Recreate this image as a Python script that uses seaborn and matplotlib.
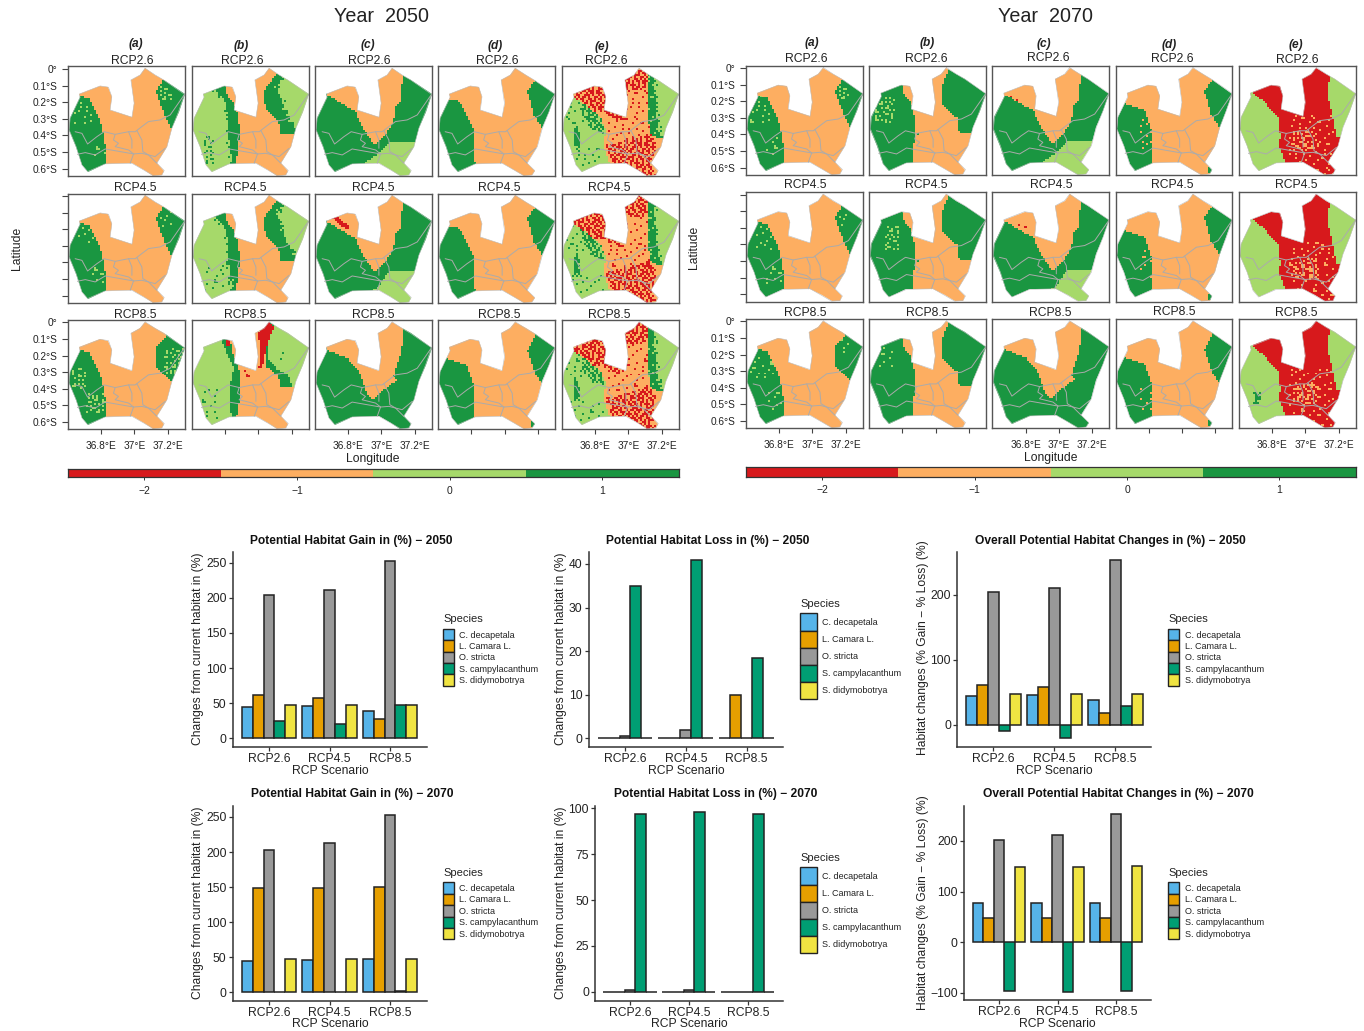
import numpy as np
import pandas as pd
import matplotlib
matplotlib.use("Agg")
import matplotlib.pyplot as plt
from matplotlib.colors import ListedColormap
from matplotlib.patches import Patch, Polygon
from matplotlib.path import Path
import seaborn as sns

sns.set_style("ticks")
plt.rcParams["font.family"] = ["Liberation Sans", "DejaVu Sans"]

W, H = 1364, 1031

# ---------------------------------------------------------------- bar data
SPECIES = ["C. decapetala", "L. Camara L.", "O. stricta", "S. campylacanthum", "S. didymobotrya"]
SCENARIOS = ["RCP2.6", "RCP4.5", "RCP8.5"]
BAR_COLORS = ["#56B4E9", "#E69F00", "#999999", "#009E73", "#F0E442"]

gain_2050 = [[45, 62, 204, 25, 47], [46, 57, 211, 20, 47], [39, 28, 253, 48, 47]]
loss_2050 = [[0, 0, 0.5, 35, 0], [0, 0, 2, 41, 0], [0, 10, 0, 18.5, 0]]
over_2050 = [[45, 62, 204, -10, 47], [46, 58, 210, -20, 47], [39, 18, 253, 29, 47]]
gain_2070 = [[44, 148, 203, 0, 47], [46, 149, 213, 0, 47], [47, 150, 253, 2, 47]]
loss_2070 = [[0, 0, 1, 97, 0], [0, 0, 1, 98, 0], [0, 0, 0, 97, 0]]
over_2070 = [[78, 47, 202, -97, 148], [78, 47, 212, -98, 149], [78, 47, 253, -96, 150]]

# ---------------------------------------------------------------- map data (lon, lat)
OUTLINE = [(37.065, .004), (37.125, -.036), (37.176, -.066), (37.302, -.153), (37.266, -.257),
           (37.226, -.357), (37.196, -.468), (37.135, -.568), (37.18, -.612), (37.165, -.639),
           (37.115, -.643), (37.055, -.608), (36.985, -.568), (36.824, -.572), (36.718, -.618),
           (36.684, -.578), (36.649, -.468), (36.607, -.367), (36.613, -.297), (36.673, -.171),
           (36.669, -.151), (36.794, -.102), (36.844, -.110), (36.864, -.167), (36.854, -.247),
           (36.985, -.291), (36.999, -.207), (36.979, -.066), (37.035, -.036)]
BORDERS = [
    [(36.643, -.378), (36.684, -.388), (36.718, -.452), (36.774, -.408), (36.818, -.378), (36.884, -.394),
     (36.965, -.378), (37.005, -.378), (37.045, -.347), (37.085, -.317), (37.155, -.307), (37.216, -.277),
     (37.302, -.153)],
    [(36.657, -.514), (36.704, -.504), (36.764, -.518), (36.824, -.482), (36.995, -.512), (37.045, -.508),
     (37.085, -.518), (37.125, -.528), (37.186, -.478)],
    [(36.884, -.394), (36.874, -.428), (36.904, -.448), (36.884, -.468), (36.965, -.488), (36.995, -.512)],
    [(36.965, -.378), (36.985, -.428), (36.985, -.478)],
    [(37.015, -.371), (37.045, -.428), (37.051, -.498), (37.085, -.518), (37.135, -.568)],
    [(36.995, -.512), (36.975, -.568)],
]

WEST_A = [(36.66, -.16), (36.724, -.177), (36.754, -.227), (36.804, -.337), (36.824, -.448), (36.83, -.572)]
EAST_A = [(37.176, -.066), (37.135, -.137), (37.155, -.207), (37.19, -.287), (37.226, -.357)]
EAST_A85 = [(37.19, -.09), (37.135, -.15), (37.135, -.27), (37.226, -.36)]
BAND_R = [(36.804, -.10), (36.814, -.167), (36.854, -.207), (36.878, -.277), (36.89, -.388), (36.878, -.468),
          (36.864, -.598)]
BAND_L = [(36.72, -.116), (36.794, -.187), (36.818, -.267), (36.818, -.388), (36.834, -.488), (36.844, -.588)]
EB_L = [(37.115, -.03), (37.045, -.116), (37.031, -.187), (37.055, -.247), (37.125, -.317), (37.131, -.388),
        (37.26, -.40)]
EB_R = [(37.145, -.056), (37.115, -.116), (37.145, -.187), (37.176, -.287), (37.226, -.357)]
BL2 = [(36.784, -.12), (36.814, -.191), (36.854, -.271), (36.834, -.371), (36.834, -.532), (36.844, -.612)]
BR2 = [(36.834, -.11), (36.844, -.181), (36.884, -.271), (36.89, -.392), (36.884, -.492), (36.864, -.612)]
RED_B85 = [(36.995, -.07), (37.065, .01), (37.095, -.03), (37.055, -.131), (37.025, -.271), (37.005, -.271),
           (37.015, -.131)]
B85_G = [(37.07, .0), (37.045, -.131), (37.045, -.262), (37.125, -.322), (37.131, -.392), (37.26, -.40)]
B85_L = [(37.095, -.01), (37.055, -.131), (37.055, -.211), (37.115, -.281), (37.176, -.312), (37.216, -.402)]
C_O = [(36.673, -.157), (36.774, -.217), (36.844, -.257), (36.894, -.367), (36.965, -.462), (37.055, -.358),
       (37.085, -.277), (37.085, -.227), (37.125, -.187), (37.125, -.106), (37.135, -.056), (37.135, .02),
       (36.60, .02)]
C_L = [(36.884, -.578), (36.975, -.518), (37.055, -.438), (37.22, -.438), (37.22, -.7), (36.884, -.7)]
C_L45 = [(36.904, -.588), (36.975, -.558), (37.045, -.458), (37.22, -.458), (37.22, -.7), (36.904, -.7)]
C_RED45 = [(36.70, -.135), (36.74, -.135), (36.80, -.18), (36.80, -.2), (36.77, -.19), (36.72, -.15)]
C85_O = [(36.67, -.165), (36.794, -.211), (36.864, -.291), (36.914, -.432), (36.955, -.468), (37.015, -.412),
         (37.095, -.35), (37.075, -.33), (37.125, -.161), (37.135, -.06), (37.135, .02), (36.6, .02)]
D_W = [(36.64, -.187), (36.734, -.197), (36.814, -.367), (36.824, -.558), (36.83, -.6)]
D_E = [(37.176, -.076), (37.135, -.137), (37.176, -.287), (37.226, -.357)]
D85_W = [(36.64, -.215), (36.684, -.227), (36.774, -.257), (36.814, -.381), (36.824, -.602)]
D85_E = [(37.176, -.09), (37.135, -.171), (37.186, -.321), (37.226, -.371)]
E_W = [(36.66, -.165), (36.71, -.197), (36.83, -.287), (36.864, -.367), (36.854, -.468), (36.894, -.588)]
E_LOBE = [(36.669, -.116), (36.794, -.086), (36.864, -.127), (36.884, -.247), (36.975, -.297), (36.961, -.317),
          (36.854, -.267), (36.75, -.257), (36.669, -.167)]
E_TOP = [(36.97, -.07), (37.03, -.03), (37.065, .02), (37.125, -.02), (37.135, -.09), (37.09, -.125), (36.99, -.13)]
E_SE = [(36.86, -.458), (37.011, -.428), (37.131, -.388), (37.171, -.448), (37.151, -.568), (37.171, -.649),
        (37.091, -.649), (37.011, -.588), (36.91, -.588)]
E_GL = [(37.121, -.03), (37.121, -.26), (37.131, -.388), (37.18, -.42), (37.26, -.42)]
E_GR = [(37.161, -.04), (37.161, -.15), (37.171, -.287), (37.19, -.40), (37.226, -.42)]
E_PATCH = [(36.668, -.345), (36.70, -.345), (36.712, -.48), (36.68, -.49)]
E_SMEAR = [(36.72, -.19), (36.80, -.24), (36.855, -.32), (36.855, -.39), (36.78, -.36), (36.72, -.27)]
B70_R = [(36.804, -.10), (36.814, -.167), (36.854, -.207), (36.87, -.25), (36.878, -.39), (36.858, -.61)]
B70_E = [(37.08, .01), (37.03, -.124), (37.03, -.215), (37.13, -.306), (37.133, -.386), (37.26, -.40)]
E70_W = [(36.66, -.13), (36.75, -.203), (36.84, -.303), (36.85, -.414), (36.84, -.474), (36.89, -.584)]
E70_E = [(37.141, -.052), (37.131, -.173), (37.161, -.293), (37.182, -.414), (37.22, -.42)]

TILE_S = ["................."
          , "....#.......#...."
          , ".#..........##..."
          , "........#........"
          , "...##...........#"
          , "...........#....."
          , ".......#........."
          , ".#.........#..#.."
          , "....#............"
          , "..........#...#.."
          , "..#.....#........"
          , "................#"
          , "......#......#..."]
TILE_M = ["..#....##....#..."
          , "#...##.....#...#."
          , "..#.....#.##....."
          , ".##..#......#.##."
          , ".....##..#.....#."
          , "#.#.......##.#..."
          , "...#.#.#.....#..#"
          , ".#....##..#......"
          , "...##.....##.#.#."
          , "#.....#.#......#."
          , "..#.#.....#.#...."
          , ".#...##.......##."
          , "....#...#.#.#...."]
TILE_D = ["##.#..###.#.##..#"
          , ".###.##..##..#.##"
          , "#.#..#.##.###.#.."
          , "##..###.#..#.###."
          , ".#.##.#..##.#.#.#"
          , "#.##..##.#.##..##"
          , "##.#.#.###..#.##."
          , ".#..##.#..##.##.#"
          , "#.###..##.#.#..##"
          , ".##.#.#.##.###.#."
          , "#..##.#..#.##.#.#"
          , "##.#.###.#..#.##."
          , ".#.#..#.##.##..##"]
TILES = {"S": TILE_S, "M": TILE_M, "D": TILE_D}
CLASS = {"R": -2, "O": -1, "L": 0, "G": 1}
MAP_COLORS = ["#D7191C", "#FDAE61", "#A6D96A", "#1A9641"]
LON0, LON1, LAT0, LAT1 = 36.6, 37.302, .015, -.645
NX, NY = 58, 55


def west(b):
    return [(b[0][0], .1)] + b + [(b[-1][0], -.7), (36.5, -.7), (36.5, .1)]


def east(b):
    return [(b[0][0], .1)] + b + [(b[-1][0], -.7), (37.4, -.7), (37.4, .1)]


def box(x0, x1, y0, y1):
    return [(x0, y0), (x1, y0), (x1, y1), (x0, y1)]


def strip(b, w):
    return [(x - w, y) for x, y in b] + [(x + w, y) for x, y in reversed(b)]


def solid(c, poly):
    return (c, None, None, poly)


def spk(c, old, tile, poly):
    return (c, old, tile, poly)


WORLD = box(36.5, 37.4, -.7, .1)


def panel_a(specks, e=EAST_A):
    return [solid("O", WORLD), solid("G", west(WEST_A)), solid("G", east(e))] + specks


def panel_b(specks):
    return [solid("O", WORLD), solid("G", west(BAND_R)), solid("L", west(BAND_L)),
            solid("G", east(EB_L)), solid("L", east(EB_R)),
            spk("G", "L", "M", strip(BAND_L, .016)), spk("G", "L", "M", strip(EB_R, .016)),
            spk("L", "G", "S", strip(EB_R, .016))] + specks


def panel_c(orange, light, red):
    ops = [solid("G", WORLD), solid("O", orange)]
    if light:
        ops.append(solid("L", light))
    return ops + red


def panel_d(w, e, extra=()):
    return [solid("O", WORLD), solid("G", west(w)), solid("G", east(e))] + list(extra)


def panel_e(extra=()):
    return [solid("O", WORLD), solid("L", west(E_W)),
            solid("G", east(E_GL)), solid("L", east(E_GR)),
            spk("L", "G", "S", box(37.11, 37.19, -.40, -.03)),
            spk("G", "L", "M", strip(E_GR, .018)),
            spk("G", "L", "S", box(36.62, 36.80, -.34, -.15)),
            spk("G", "L", "D", E_SMEAR),
            spk("G", "L", "S", box(36.62, 36.85, -.60, -.48)),
            spk("R", "O", "D", E_LOBE),
            spk("R", "O", "D", E_TOP),
            spk("R", "O", "D", E_SE),
            spk("R", "O", "S", box(36.88, 37.14, -.43, -.13))] + list(extra)


def panel_e70(extra=()):
    return [solid("R", WORLD), solid("L", west(E70_W)), solid("L", east(E70_E)),
            spk("O", "R", "S", box(36.90, 37.17, -.64, -.28)),
            spk("O", "R", "M", box(36.93, 37.08, -.50, -.38))] + list(extra)


PATCH_E = [solid("G", box(36.672, 36.70, -.46, -.37)), spk("G", "L", "D", E_PATCH)]

P2050 = [
    [panel_a([spk("L", "G", "S", box(36.64, 36.77, -.33, -.19)), spk("L", "G", "S", box(36.734, 36.824, -.54, -.45)),
              spk("L", "G", "M", box(37.155, 37.226, -.19, -.10))]),
     panel_b([spk("G", "L", "M", box(36.673, 36.734, -.568, -.398))]),
     panel_c(C_O, C_L, [spk("R", "O", "S", box(36.754, 36.804, -.217, -.177))]),
     panel_d(D_W, D_E),
     panel_e(PATCH_E)],
    [panel_a([spk("L", "G", "S", box(36.66, 36.77, -.28, -.15)), spk("L", "G", "S", box(36.734, 36.824, -.54, -.43)),
              spk("L", "G", "S", box(37.155, 37.226, -.19, -.09))]),
     panel_b([spk("G", "L", "S", box(36.673, 36.80, -.568, -.42)), spk("L", "G", "S", box(36.80, 36.87, -.55, -.40))]),
     panel_c(C_O, C_L45, [solid("R", C_RED45)]),
     panel_d(D_W, D_E),
     panel_e(PATCH_E)],
    [panel_a([spk("L", "G", "M", box(36.623, 36.714, -.41, -.27)), spk("L", "G", "M", box(36.714, 36.824, -.55, -.43)),
              spk("L", "G", "M", box(37.176, 37.296, -.31, -.15))], EAST_A85),
     [solid("O", WORLD), solid("G", west(BR2)), solid("L", west(BL2)), solid("G", east(B85_G)),
      solid("L", east(B85_L)), solid("R", RED_B85), solid("R", box(36.808, 36.834, -.14, -.11)),
      spk("G", "L", "S", box(37.125, 37.17, -.22, -.16)), spk("G", "L", "S", box(36.66, 36.76, -.58, -.39)),
      spk("R", "O", "S", box(36.86, 37.0, -.33, -.27))],
     panel_c(C85_O, None, []),
     panel_d(D85_W, D85_E, [solid("G", box(37.155, 37.18, -.63, -.60))]),
     panel_e(PATCH_E)],
]

B70 = [solid("O", WORLD), solid("G", west(B70_R)), solid("G", east(B70_E))]
P2070 = [
    [panel_a([spk("L", "G", "S", box(36.62, 36.78, -.35, -.17)), spk("L", "G", "S", box(36.72, 36.82, -.54, -.42)),
              spk("L", "G", "M", box(37.155, 37.22, -.20, -.10))]),
     B70 + [spk("L", "G", "M", box(36.64, 36.76, -.335, -.175)), solid("G", box(36.885, 36.90, -.41, -.395))],
     panel_c(C_O, C_L, [spk("R", "O", "S", box(36.71, 36.80, -.217, -.165))]),
     panel_d(D85_W, D_E, [spk("O", "G", "S", box(36.75, 36.83, -.50, -.30)), solid("G", box(37.155, 37.18, -.63, -.60))]),
     panel_e70()],
    [panel_a([spk("L", "G", "S", box(36.66, 36.78, -.33, -.15)), spk("L", "G", "S", box(36.72, 36.82, -.54, -.42)),
              spk("L", "G", "S", box(37.155, 37.22, -.20, -.08))]),
     B70 + [spk("L", "G", "M", box(36.70, 36.78, -.33, -.19)), solid("G", box(36.885, 36.90, -.41, -.395))],
     panel_c(C_O, C_L45, [spk("R", "O", "S", box(36.71, 36.80, -.217, -.165))]),
     panel_d(D85_W, D_E, [spk("O", "G", "S", box(36.75, 36.83, -.50, -.30)), solid("G", box(37.155, 37.18, -.63, -.60))]),
     panel_e70()],
    [panel_a([spk("L", "G", "S", box(36.62, 36.78, -.35, -.20)), spk("L", "G", "S", box(36.72, 36.82, -.54, -.42)),
              spk("L", "G", "S", box(37.155, 37.22, -.20, -.08))], EAST_A85),
     B70 + [spk("L", "G", "S", box(36.66, 36.76, -.27, -.13))],
     panel_c(C85_O, None, []),
     panel_d(D85_W, D85_E, [spk("O", "G", "S", box(36.75, 36.83, -.55, -.40)), solid("G", box(37.155, 37.18, -.63, -.60))]),
     panel_e70([spk("G", "L", "D", box(36.68, 36.73, -.504, -.424)), solid("G", box(36.695, 36.715, -.48, -.44))])],
]

# ---------------------------------------------------------------- layout (pixels)
COLS_2050 = [(68, 184.5), (192, 308.5), (315, 431.5), (438, 555), (562, 678.5)]
ROWS_2050 = [(66.5, 176), (193.5, 303), (320, 429)]
COLS_2070 = [(746, 862.7), (869.3, 985.7), (992.3, 1109), (1115.7, 1232.3), (1239, 1355.7)]
ROWS_2070 = [(65.7, 175), (192.3, 301.5), (319, 428)]
LET_2050 = [(136, 44), (241, 46), (368, 45), (495, 46), (602, 47)]
LET_2070 = [(812, 43), (927, 43), (1044, 44), (1169, 45), (1296, 45)]
RCP_2050 = [[(132.7, 60.7), (242, 61), (369, 60.7), (497, 60.7), (606, 60.7)],
            [(135.6, 187.7), (245.7, 187.7), (373, 187.7), (499, 187.7), (609, 187.7)],
            [(135.6, 314.7), (245.7, 314.7), (373, 314.7), (499, 314.7), (609, 314.7)]]
RCP_2070 = [[(806, 59), (926.7, 59), (1048, 58), (1172, 59), (1297.7, 60)],
            [(805, 185), (926.7, 185), (1051, 185), (1172, 185), (1296.7, 184.5)],
            [(805.6, 313), (927, 313), (1050, 313), (1174, 312), (1296, 313)]]
LAT_TICKS = [0, -.1, -.2, -.3, -.4, -.5, -.6]
LAT_LABELS = ["0°", "0.1°S", "0.2°S", "0.3°S", "0.4°S", "0.5°S", "0.6°S"]
LON_TICKS = [36.8, 37.0, 37.2]
LON_LABELS = ["36.8°E", "37°E", "37.2°E"]

fig = plt.figure(figsize=(W / 100, H / 100), dpi=100, facecolor="white")
cmap = ListedColormap(MAP_COLORS)


def px_axes(x0, x1, y0, y1):
    return fig.add_axes([x0 / W, 1 - y1 / H, (x1 - x0) / W, (y1 - y0) / H])


def ftext(x, y, s, **kw):
    kw.setdefault("ha", "center")
    kw.setdefault("va", "center")
    return fig.text(x / W, 1 - y / H, s, **kw)


dx = (LON1 - LON0) / NX
dy = (LAT0 - LAT1) / NY
lon_c = LON0 + (np.arange(NX) + .5) * dx
lat_c = LAT0 - (np.arange(NY) + .5) * dy
LL = np.array(np.meshgrid(lon_c, lat_c)).reshape(2, -1).T
xi = lambda lon: (np.asarray(lon) - LON0) / dx
yi = lambda lat: (LAT0 - np.asarray(lat)) / dy


def rasterise(ops, shift):
    grid = np.zeros((NY, NX))
    for new, old, tile, poly in ops:
        inside = Path(poly).contains_points(LL).reshape(NY, NX)
        if old is not None:
            inside &= grid == CLASS[old]
        if tile is not None:
            t = TILES[tile]
            h, w = len(t), len(t[0])
            hit = np.array([[t[(r + shift) % h][(c + 2 * shift + 5 * (r // h)) % w] == "#"
                             for c in range(NX)] for r in range(NY)])
            inside &= hit
        grid[inside] = CLASS[new]
    return grid


def draw_map(ax, ops, left, row, bottom_labels, shift):
    sns.heatmap(rasterise(ops, shift), ax=ax, cmap=cmap, vmin=-2.5, vmax=1.5, cbar=False,
                xticklabels=False, yticklabels=False)
    o = np.array(OUTLINE)
    clip = Polygon(np.c_[xi(o[:, 0]), yi(o[:, 1])], closed=True, transform=ax.transData)
    ax.collections[0].set_clip_path(clip)
    for line in BORDERS:
        a = np.array(line)
        ax.plot(xi(a[:, 0]), yi(a[:, 1]), color="#ABABAB", lw=.7, solid_joinstyle="round")
    o = np.array(OUTLINE + OUTLINE[:1])
    ax.plot(xi(o[:, 0]), yi(o[:, 1]), color="#BDBDBD", lw=.4)
    ax.set_xlim(0, NX)
    ax.set_ylim(NY, 0)
    for s in ax.spines.values():
        s.set_visible(True)
        s.set_color("#555555")
        s.set_linewidth(1.0)
    if left:
        ax.set_yticks(yi(LAT_TICKS))
        ax.set_yticklabels(LAT_LABELS if row != 1 else [""] * 7, rotation=0)
    else:
        ax.set_yticks([])
    if row == 2:
        ax.set_xticks(xi(LON_TICKS))
        ax.set_xticklabels(LON_LABELS if bottom_labels else ["", "", ""], rotation=0)
    else:
        ax.set_xticks([])
    ax.tick_params(axis="y", length=4, width=.8, color="#444444", pad=3.5, labelsize=7.3, labelcolor="#222222")
    ax.tick_params(axis="x", length=3.5, width=.8, color="#444444", pad=5.3, labelsize=7.3, labelcolor="#222222")


def draw_block(panels, cols, rows, letters, rcps):
    for r, (y0, y1) in enumerate(rows):
        for c, (x0, x1) in enumerate(cols):
            ax = px_axes(x0, x1, y0, y1)
            draw_map(ax, panels[r][c], c == 0, r, c in (0, 2, 4), r * 3 + c * 7)
            ftext(*rcps[r][c], SCENARIOS[r], fontsize=8.7, color="#222222")
    for (x, y), s in zip(letters, ["(a)", "(b)", "(c)", "(d)", "(e)"]):
        ftext(x, y, s, fontsize=8.6, fontweight="bold", fontstyle="italic", color="#222222")


draw_block(P2050, COLS_2050, ROWS_2050, LET_2050, RCP_2050)
draw_block(P2070, COLS_2070, ROWS_2070, LET_2070, RCP_2070)


def draw_cbar(x0, x1, y0, y1):
    ax = px_axes(x0, x1, y0, y1)
    sns.heatmap(np.array([[-2, -1, 0, 1]]), ax=ax, cmap=cmap, vmin=-2.5, vmax=1.5, cbar=False,
                xticklabels=False, yticklabels=False)
    for s in ax.spines.values():
        s.set_visible(True)
        s.set_color("#333333")
        s.set_linewidth(.9)
    ax.set_yticks([])
    ax.set_xticks([.5, 1.5, 2.5, 3.5])
    ax.set_xticklabels(["\u22122", "\u22121", "0", "1"], rotation=0)
    ax.tick_params(axis="x", length=2.5, width=.7, color="#333333", pad=3.8, labelsize=7.5, labelcolor="#222222")


draw_cbar(68, 678.5, 469, 477.3)
draw_cbar(746, 1355.7, 467.3, 476.7)

ftext(382, 16, "Year  2050", fontsize=14.2, color="#222222")
ftext(1045, 17, "Year  2070", fontsize=14.2, color="#222222")
ftext(373, 459, "Longitude", fontsize=8.7, color="#222222")
ftext(1051, 457.5, "Longitude", fontsize=8.7, color="#222222")
ftext(17, 248, "Latitude", fontsize=8.7, rotation=90, color="#222222")
ftext(694, 247, "Latitude", fontsize=8.7, rotation=90, color="#222222")


# ---------------------------------------------------------------- bars
def tidy(values):
    return pd.DataFrame([
        {"RCP": s, "Species": sp, "Change": v}
        for s, row in zip(SCENARIOS, values) for sp, v in zip(SPECIES, row)])


def draw_bars(values, box_px, ylim, yticks, cats, title, tpos, ylabel, ylpos, xlpos, legend, big):
    x0, x1, y0, y1 = box_px
    ax = px_axes(x0, x1, y0, y1)
    sns.barplot(data=tidy(values), x="RCP", y="Change", hue="Species", hue_order=SPECIES, palette=BAR_COLORS,
                order=SCENARIOS, width=.9, saturation=1, edgecolor="#222222", linewidth=1.1, legend=False, ax=ax)
    d = (cats[1] - cats[0]) / 1.0
    ax.set_xlim((x0 - cats[0]) / d, (x1 - cats[0]) / d)
    ax.set_ylim(*ylim)
    ax.set_yticks(yticks)
    ax.set_yticklabels([str(t).replace("-", "\u2212") for t in yticks])
    ax.set_xlabel("")
    ax.set_ylabel("")
    sns.despine(ax=ax)
    ax.patch.set_alpha(0)
    for k in ("left", "bottom"):
        ax.spines[k].set_color("#333333")
        ax.spines[k].set_linewidth(1.1)
    ax.tick_params(length=3, width=.9, color="#333333", labelsize=8.7, labelcolor="#222222", pad=1.5)
    ftext(tpos[0], tpos[1] + 1.3, title, fontsize=8.65, fontweight="bold", color="#111111")
    ftext(*ylpos, ylabel, fontsize=8.7, rotation=90, color="#222222")
    ftext(*xlpos, "RCP Scenario", fontsize=8.7, color="#222222")
    handles = [Patch(facecolor=c, edgecolor="#222222", linewidth=1.0, label=s) for c, s in zip(BAR_COLORS, SPECIES)]
    leg = ax.legend(handles=handles, title="Species", loc="upper left",
                    bbox_to_anchor=(legend[0] / W, 1 - legend[1] / H), bbox_transform=fig.transFigure,
                    frameon=False, borderpad=0, borderaxespad=0, alignment="left", fontsize=6.5,
                    title_fontsize=8, labelspacing=.0,
                    handlelength=1.85 if big else 1.22, handleheight=2.54 if big else 1.56,
                    handletextpad=.6)
    leg._legend_box.sep = 3.2
    for t in leg.get_texts():
        t.set_color("#222222")
    leg.get_title().set_color("#222222")


draw_bars(gain_2050, (232.7, 427, 551.7, 746.7), (-12, 265.8), [0, 50, 100, 150, 200, 250], (269, 329.5),
          "Potential Habitat Gain in (%) \u2212 2050", (351.7, 539.3), "Changes from current habitat in (%)",
          (198, 649), (330, 771), (443, 614.5), False)
draw_bars(loss_2050, (588.7, 782.7, 551.7, 746.7), (-1.93, 42.8), [0, 10, 20, 30, 40], (625, 685.8),
          "Potential Habitat Loss in (%) \u2212 2050", (707.7, 539.3), "Changes from current habitat in (%)",
          (560.7, 649), (686, 771), (800, 599), True)
draw_bars(over_2050, (957.3, 1150.7, 551.7, 746.7), (-33.4, 266), [0, 100, 200], (993.3, 1054.2),
          "Overall Potential Habitat Changes in (%) \u2212 2050", (1110, 539.3), "Habitat changes (% Gain \u2212 % Loss) (%)",
          (922.7, 648), (1054, 770.5), (1168.3, 614.5), False)
draw_bars(gain_2070, (232.7, 427, 806, 1001), (-12.8, 265.7), [0, 50, 100, 150, 200, 250], (269, 329.5),
          "Potential Habitat Gain in (%) \u2212 2070", (352, 793), "Changes from current habitat in (%)",
          (198, 903), (330, 1024), (443, 868), False)
draw_bars(loss_2070, (595.3, 782.7, 806, 1000.7), (-4.9, 101.3), [0, 25, 50, 75, 100], (630, 688.9),
          "Potential Habitat Loss in (%) \u2212 2070", (715.7, 793), "Changes from current habitat in (%)",
          (560.7, 903), (689, 1024), (800, 853), True)
draw_bars(over_2070, (964, 1150.7, 806, 1000), (-113.9, 269), [-100, 0, 100, 200], (999, 1057.5),
          "Overall Potential Habitat Changes in (%) \u2212 2070", (1118, 793), "Habitat changes (% Gain \u2212 % Loss) (%)",
          (922.7, 903), (1057.7, 1024), (1168.3, 868), False)

fig.savefig("out.png", dpi=100, facecolor="white")
